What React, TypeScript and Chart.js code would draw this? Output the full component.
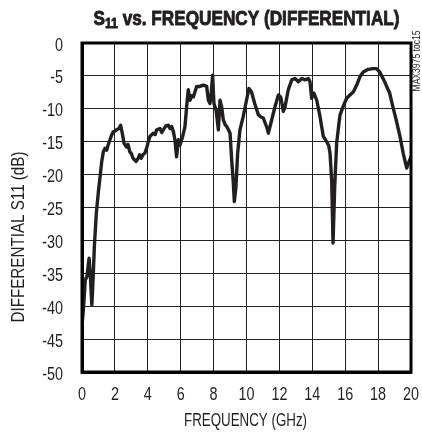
import React, { useEffect, useRef } from "react";
import { Chart, registerables } from "chart.js";

Chart.register(...registerables);

const freqGHz: number[] = [
  0.0, 0.1, 0.2, 0.3, 0.43, 0.5, 0.6, 0.68, 0.75, 0.87, 1.0, 1.1, 1.2, 1.3, 1.4, 1.5, 1.6, 1.7, 1.8, 1.9,
  2.0, 2.1, 2.25, 2.35, 2.47, 2.55, 2.7, 2.8, 2.9, 3.0, 3.1, 3.28, 3.4, 3.5, 3.6, 3.7, 3.83, 3.95,
  4.03, 4.13, 4.33, 4.45, 4.54, 4.74, 4.85, 4.94, 5.1, 5.25, 5.35, 5.45, 5.55, 5.65, 5.75, 5.86, 5.96,
  6.12, 6.26, 6.36, 6.46, 6.57, 6.67, 6.77, 6.87, 6.97, 7.17, 7.37, 7.58, 7.68, 7.78, 7.86, 7.94,
  8.02, 8.15, 8.29, 8.39, 8.49, 8.59, 8.7, 8.8, 9.0, 9.1, 9.2, 9.26, 9.36, 9.46, 9.6, 9.8,
  10.0, 10.15, 10.3, 10.5, 10.72, 10.86, 11.02, 11.23, 11.33, 11.53, 11.73, 11.94,
  12.08, 12.24, 12.34, 12.54, 12.75, 12.95, 13.15, 13.36, 13.56, 13.76, 13.86, 13.96,
  14.1, 14.27, 14.47, 14.67, 14.87, 15.0, 15.08, 15.18, 15.26, 15.36, 15.48, 15.68, 15.88,
  16.09, 16.29, 16.5, 16.7, 16.9, 17.1, 17.4, 17.7, 17.9, 18.1, 18.4, 18.7, 18.9,
  19.1, 19.33, 19.53, 19.74, 19.84, 20.0,
];

const s11dB: number[] = [
  -43.0, -40.0, -36.0, -35.5, -32.7, -35.0, -39.8, -35.5, -31.0, -25.9, -22.5, -20.3, -18.0, -16.5, -16.0, -16.3, -15.4, -14.7, -14.0, -13.5,
  -13.4, -13.2, -13.0, -12.5, -14.0, -15.2, -15.8, -15.4, -16.5, -16.8, -17.5, -18.0, -17.6, -17.0, -17.5, -17.0, -16.7, -15.8,
  -15.0, -14.2, -13.7, -13.9, -13.2, -13.0, -13.6, -13.2, -12.6, -12.5, -13.0, -12.7, -13.4, -14.7, -17.3, -14.7, -15.5,
  -14.2, -12.7, -9.7, -7.1, -8.7, -8.0, -8.2, -7.4, -6.6, -6.6, -6.4, -6.6, -8.7, -9.2, -7.5, -4.9,
  -9.2, -10.2, -13.2, -8.7, -9.7, -11.7, -12.4, -12.7, -13.7, -17.8, -21.3, -24.1, -21.8, -16.8, -13.2, -11.2,
  -8.7, -6.9, -7.4, -9.2, -10.9, -11.2, -11.4, -12.8, -13.7, -11.7, -9.7, -7.9,
  -8.2, -10.4, -9.7, -7.1, -5.6, -5.4, -5.9, -5.4, -5.6, -5.4, -5.9, -8.4,
  -7.6, -8.7, -11.2, -14.2, -15.0, -15.6, -16.8, -21.0, -30.4, -22.0, -15.2, -11.0, -9.6,
  -8.4, -7.9, -7.4, -6.4, -5.1, -4.4, -4.0, -3.9, -3.9, -4.4, -5.9, -7.6, -9.7,
  -11.7, -14.2, -16.8, -19.0, -18.3, -17.3,
];

const xMin = 0;
const xMax = 20;
const xStep = 2;
const yMin = -50;
const yMax = 0;
const yStep = 5;

const titleMain = "S";
const titleSub = "11";
const titleRest = " vs. FREQUENCY (DIFFERENTIAL)";
const xTitle = "FREQUENCY (GHz)";
const yTitle = "DIFFERENTIAL S11 (dB)";
const sideNote = "MAX3975 toc15";

const FONT = "'Liberation Sans', Arial, sans-serif";
const INK = "#231f20";
const CONDENSE = 0.8;

function drawCondensed(
  ctx: CanvasRenderingContext2D,
  text: string,
  x: number,
  y: number,
  font: string,
  align: "left" | "center" | "right",
  scaleX: number,
  rotate = 0
) {
  ctx.save();
  ctx.translate(x, y);
  if (rotate) ctx.rotate(rotate);
  ctx.scale(scaleX, 1);
  ctx.font = font;
  ctx.textAlign = align;
  ctx.textBaseline = "alphabetic";
  ctx.fillText(text, 0, 0);
  ctx.restore();
}

function fitScale(ctx: CanvasRenderingContext2D, text: string, font: string, target: number) {
  ctx.save();
  ctx.font = font;
  const w = ctx.measureText(text).width;
  ctx.restore();
  return w > 0 ? target / w : 1;
}

const textPlugin = {
  id: "textPlugin",
  afterDraw(chart: any) {
    const ctx = chart.ctx as CanvasRenderingContext2D;
    const ca = chart.chartArea;
    ctx.save();
    // frame
    ctx.strokeStyle = "#000";
    ctx.lineWidth = 3;
    ctx.strokeRect(ca.left, ca.top, ca.right - ca.left, ca.bottom - ca.top);

    ctx.fillStyle = INK;

    // tick labels from the scales
    const tickFont = `18px ${FONT}`;
    const xs = chart.scales.x;
    xs.ticks.forEach((t: any) => {
      const px = xs.getPixelForValue(t.value);
      drawCondensed(ctx, String(t.label), px, ca.bottom + 28, tickFont, "center", CONDENSE);
    });
    const ys = chart.scales.y;
    ys.ticks.forEach((t: any) => {
      const py = ys.getPixelForValue(t.value);
      drawCondensed(ctx, String(t.label), ca.left - 19, py + 7.5, tickFont, "right", CONDENSE);
    });

    // title
    const bigFont = `bold 21px ${FONT}`;
    const subFont = `bold 15px ${FONT}`;
    ctx.font = bigFont;
    const wS = ctx.measureText(titleMain).width;
    const wR = ctx.measureText(titleRest).width;
    ctx.font = subFont;
    const wSub = ctx.measureText(titleSub).width;
    const total = wS + wSub + wR;
    const tScale = 306 / total;
    const cx = (ca.left + ca.right) / 2;
    ctx.save();
    ctx.translate(cx - 306 / 2, 25);
    ctx.scale(tScale, 1);
    ctx.textAlign = "left";
    ctx.textBaseline = "alphabetic";
    ctx.strokeStyle = INK;
    ctx.lineWidth = 0.9;
    ctx.lineJoin = "round";
    ctx.font = bigFont;
    ctx.fillText(titleMain, 0, 0);
    ctx.strokeText(titleMain, 0, 0);
    ctx.font = subFont;
    ctx.fillText(titleSub, wS, 3);
    ctx.strokeText(titleSub, wS, 3);
    ctx.font = bigFont;
    ctx.fillText(titleRest, wS + wSub, 0);
    ctx.strokeText(titleRest, wS + wSub, 0);
    ctx.restore();

    // x title
    const xtFont = `18px ${FONT}`;
    drawCondensed(ctx, xTitle, cx - 1, 426, xtFont, "center", fitScale(ctx, xTitle, xtFont, 123));

    // y title
    const ytFont = `18px ${FONT}`;
    drawCondensed(ctx, yTitle, 24, 237, ytFont, "center", fitScale(ctx, yTitle, ytFont, 171), -Math.PI / 2);

    // side note
    const snFont = `10px ${FONT}`;
    drawCondensed(ctx, sideNote, 420, 61, snFont, "center", fitScale(ctx, sideNote, snFont, 61), -Math.PI / 2);

    ctx.restore();
  },
};

export default function App() {
  const canvasRef = useRef<HTMLCanvasElement | null>(null);

  useEffect(() => {
    if (!canvasRef.current) return;
    const points = freqGHz.map((f, i) => ({ x: f, y: s11dB[i] }));
    const chart = new Chart(canvasRef.current, {
      type: "line",
      data: {
        datasets: [
          {
            data: points,
            borderColor: INK,
            borderWidth: 3.4,
            pointRadius: 0,
            tension: 0,
            fill: false,
            borderJoinStyle: "round",
            borderCapStyle: "round",
          },
        ],
      },
      options: {
        animation: false,
        responsive: false,
        maintainAspectRatio: false,
        layout: { padding: { top: 43, right: 11, left: 0, bottom: 0 } },
        plugins: {
          legend: { display: false },
          title: { display: false },
          tooltip: { enabled: false },
        },
        scales: {
          x: {
            type: "linear",
            min: xMin,
            max: xMax,
            ticks: { stepSize: xStep, display: false, autoSkip: false },
            grid: { color: "#222", lineWidth: 1, drawTicks: false },
            border: { display: true, color: "#000", width: 3 },
            afterFit: (s: any) => {
              s.height = 63;
            },
          },
          y: {
            type: "linear",
            min: yMin,
            max: yMax,
            ticks: { stepSize: yStep, display: false, autoSkip: false },
            grid: { color: "#222", lineWidth: 1, drawTicks: false },
            border: { display: true, color: "#000", width: 3 },
            afterFit: (s: any) => {
              s.width = 82;
            },
          },
        },
      },
      plugins: [textPlugin],
    });
    return () => chart.destroy();
  }, []);

  return (
    <div style={{ position: "absolute", left: 0, top: 0, width: 422, height: 435, background: "#fff" }}>
      <canvas ref={canvasRef} width={422} height={435} style={{ display: "block" }} />
    </div>
  );
}
